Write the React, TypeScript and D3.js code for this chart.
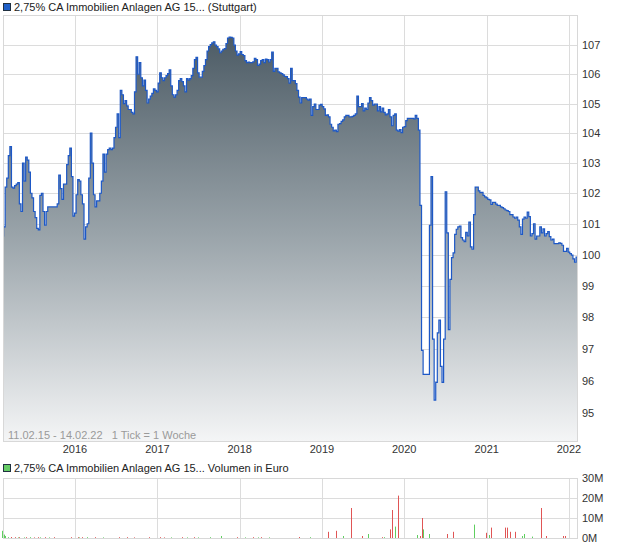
import React from "react";
import * as d3 from "d3";

const START_DATE = "2015-02-11";
const END_DATE = "2022-02-14";
const STEP_DAYS = 7;

const title = "2,75% CA Immobilien Anlagen AG 15... (Stuttgart)";
const volumeTitle = "2,75% CA Immobilien Anlagen AG 15... Volumen in Euro";
const rangeNote = "11.02.15 - 14.02.22   1 Tick = 1 Woche";

// weekly prices (one value per week starting 11.02.2015)
const prices2015 = [
  100.6, 100.9, 102.2, 102.5, 103.25, 103.55, 102.2, 102.17, 102.25, 102.3,
  102.35, 101.65, 101.4, 103.0, 102.4, 103.2, 103.1, 102.7, 102.0, 101.85,
  101.4, 101.2, 100.85, 100.8, 101.93, 102.0, 101.4, 100.95, 101.4, 101.55,
  101.55, 101.55, 101.55, 101.55, 101.55, 101.65, 102.6, 102.15, 101.8, 102.3,
  102.3, 102.95, 103.25, 103.5, 102.55, 101.25, 101.35,
];
const prices2016 = [
  101.95, 102.45, 102.4, 101.95, 101.65, 100.5, 100.9, 101.0, 102.5, 104.0,
  103.0, 101.95, 101.55, 101.75, 101.75, 102.0, 102.4, 103.3, 102.7, 103.3,
  103.45, 103.5, 103.45, 103.5, 103.85, 104.2, 104.65, 103.85, 105.45, 105.3,
  105.0, 105.1, 104.92, 104.8, 104.8, 104.7, 104.65, 105.4, 106.6, 106.0,
  106.4, 105.88, 105.6, 105.8, 105.45, 105.02, 105.15, 105.25, 105.35, 105.5,
  105.45, 105.4,
];
const prices2017 = [
  105.7, 106.05, 105.88, 105.78, 105.88, 105.95, 106.02, 106.15, 105.6, 105.3,
  105.22, 105.3, 105.45, 105.78, 105.85, 105.75, 105.6, 105.4, 105.85, 105.8,
  105.85, 105.95, 106.2, 106.5, 106.58, 106.05, 105.9, 105.9, 106.1, 106.3,
  106.5, 106.8, 106.95, 107.02, 107.08, 107.12, 107.0, 106.95, 106.87, 106.74,
  106.8, 106.86, 106.88, 107.06, 107.25, 107.28, 107.27, 107.25, 107.0, 106.8,
  106.66, 106.7,
];
const prices2018 = [
  106.78, 106.68, 106.64, 106.47, 106.4, 106.42, 106.4, 106.4, 106.43, 106.55,
  106.5, 106.3, 106.35, 106.47, 106.5, 106.4, 106.52, 106.5, 106.42, 106.5,
  106.76, 106.1, 106.2, 106.2, 106.08, 106.05, 106.02, 105.98, 105.93, 105.92,
  105.85, 105.7, 106.2, 105.78, 105.78, 105.68, 105.45, 105.22, 105.02, 105.2,
  105.2, 105.2, 105.15, 105.12, 105.15, 104.6, 104.9, 104.98, 104.8, 104.8,
  104.95, 104.97,
];
const prices2019 = [
  104.9, 104.82, 104.6, 104.62, 104.55, 104.3, 104.2, 104.08, 104.1, 104.05,
  104.3, 104.32, 104.4, 104.45, 104.55, 104.6, 104.6, 104.55, 104.55, 104.57,
  104.6, 104.65, 105.25, 104.9, 104.9, 105.0, 104.75, 104.85, 104.8, 105.02,
  105.2, 105.1, 104.95, 104.98, 104.98, 104.75, 104.9, 104.72, 104.85, 104.7,
  104.62, 104.65, 104.8, 104.55, 104.25, 104.6, 104.65, 104.1, 104.07, 104.12,
  104.02, 104.2,
];
const prices2020 = [
  104.22, 104.42, 104.5, 104.5, 104.5, 104.5, 104.48, 104.6, 104.5, 104.1,
  101.6, 96.95, 96.2, 96.2, 96.2, 96.2, 100.95, 102.55, 97.3, 95.4,
  95.95, 97.5, 97.9, 96.45, 95.95, 97.3, 102.05, 100.7, 97.6, 99.2,
  99.9, 100.05, 100.65, 100.82, 100.9, 100.92, 100.55, 100.47, 100.42, 100.72,
  100.6, 101.05, 100.25, 100.17, 101.3, 102.2, 102.2, 102.08, 102.02, 102.03,
  101.93, 101.88, 101.85,
];
const prices2021 = [
  101.8, 101.78, 101.63, 101.7, 101.7, 101.64, 101.6, 101.6, 101.55, 101.53,
  101.49, 101.45, 101.43, 101.4, 101.3, 101.3, 101.22, 101.18, 101.22, 101.12,
  100.9, 100.65, 101.15, 101.22, 101.18, 101.38, 101.23, 100.6, 100.68, 101.0,
  100.5, 100.6, 100.6, 100.9, 100.7, 100.83, 100.6, 100.68, 100.74, 100.58,
  100.47, 100.5, 100.35, 100.35, 100.35, 100.38, 100.36, 100.3, 100.1, 100.1,
  100.2, 100.08,
];
const prices2022 = [100.03, 99.98, 99.86, 99.75, 99.92, 99.97];

// volume in million euro, by week index
const volumeWeek = [
  0, 1, 2, 4, 6, 8, 10, 11, 14, 15, 18, 20, 23, 24, 27, 30, 33, 44, 48, 49,
  51, 54, 59, 64, 74, 79, 84, 93, 100, 103, 107, 114, 117, 122, 124, 132, 139,
  149, 154, 159, 162, 164, 169, 188, 195, 207, 212, 216, 221, 228, 232, 241,
  242, 246, 247, 249, 251, 263, 265, 266, 267, 271, 282, 286, 299, 307, 309,
  310, 319, 320, 322, 325, 330, 331, 336, 342, 345, 356, 357,
];
const volumeMio = [
  3.6, 1.7, 1.0, 0.4, 0.5, 0.4, 0.3, 0.4, 0.3, 0.4, 0.4, 0.3, 0.4, 0.3, 0.4,
  0.3, 0.4, 0.4, 0.4, 0.3, 0.4, 0.4, 0.4, 0.3, 0.4, 0.4, 0.3, 0.4, 0.4, 0.3,
  0.3, 0.4, 0.3, 0.4, 0.3, 0.4, 1.0, 0.4, 0.3, 0.4, 0.3, 0.4, 0.3, 0.5, 0.4,
  3.1, 3.6, 1.0, 15.0, 1.0, 2.0, 0.4, 0.4, 4.3, 14.0, 5.7, 21.2, 1.5, 1.0,
  10.0, 4.3, 2.0, 2.0, 3.1, 6.7, 2.6, 1.5, 5.2, 5.2, 5.2, 3.1, 3.1, 1.0, 2.0,
  0.7, 15.0, 1.0, 1.0, 1.0,
];
const volumeUp = [
  1, 1, 1, 1, 0, 0, 1, 0, 1, 0, 1, 0, 0, 1, 0, 1, 0, 0, 0, 1,
  0, 1, 0, 1, 0, 0, 0, 0, 0, 0, 1, 0, 1, 0, 1, 1, 1,
  0, 1, 0, 1, 0, 1, 0, 1, 0, 0, 1, 0, 0, 1, 0,
  1, 0, 0, 1, 0, 1, 0, 0, 1, 1, 0, 0, 1, 0, 1,
  0, 0, 0, 0, 0, 1, 1, 1, 0, 0, 0, 0,
];

const yearTicks = [2016, 2017, 2018, 2019, 2020, 2021, 2022];
const priceTicks = [95, 96, 97, 98, 99, 100, 101, 102, 103, 104, 105, 106, 107];
const volumeTicks = [0, 10, 20, 30];

const FONT = "'Liberation Sans', Arial, sans-serif";

export default function App() {
  const W = 620;
  const H = 546;
  const L = 3;
  const R = 578;
  const top = 15;
  const bottom = 441;
  const vTop = 478;
  const vBottom = 538;

  const parse = d3.utcParse("%Y-%m-%d");
  const start = parse(START_DATE) as Date;
  const end = parse(END_DATE) as Date;
  const prices = [
    ...prices2015, ...prices2016, ...prices2017, ...prices2018,
    ...prices2019, ...prices2020, ...prices2021, ...prices2022,
  ];
  const data = prices.map((v, i) => ({ date: d3.utcDay.offset(start, i * STEP_DAYS), v }));

  const x = d3.scaleUtc().domain([start, end]).range([2, 578.8]);
  const y = d3.scaleLog().domain([94.15, 108.05]).range([bottom, top]);
  const yv = d3.scaleLinear().domain([0, 30]).range([vBottom, vTop]);

  const line = d3
    .line<{ date: Date; v: number }>()
    .x((d) => x(d.date))
    .y((d) => y(d.v))
    .curve(d3.curveStepAfter);
  const area = d3
    .area<{ date: Date; v: number }>()
    .x((d) => x(d.date))
    .y0(bottom)
    .y1((d) => y(d.v))
    .curve(d3.curveStepAfter);

  const yearX = yearTicks.map((yr) => x(new Date(Date.UTC(yr, 0, 1))));

  return (
    <svg
      width={W}
      height={H}
      style={{ position: "absolute", left: 0, top: 0, background: "#fff" }}
      fontFamily={FONT}
    >
      <defs>
        <linearGradient id="fillGrad" gradientUnits="userSpaceOnUse" x1="0" y1={30} x2="0" y2={bottom}>
          <stop offset="0" stopColor="#4a5963" />
          <stop offset="0.5" stopColor="#9aa4aa" />
          <stop offset="1" stopColor="#f4f5f6" />
        </linearGradient>
        <clipPath id="plotClip">
          <rect x={L} y={top} width={R - L} height={bottom - top} />
        </clipPath>
      </defs>

      {/* legend */}
      <rect x={3.5} y={3.5} width={7} height={7} fill="#1f5fc8" stroke="#203040" />
      <text x={14} y={11} fontSize={11} fill="#222">{title}</text>

      {/* main grid */}
      {priceTicks.map((t) => (
        <line key={"h" + t} x1={L} x2={R} y1={Math.round(y(t)) + 0.5} y2={Math.round(y(t)) + 0.5} stroke="#dcdcdc" />
      ))}
      {yearX.map((px, i) => (
        <line key={"v" + i} x1={Math.round(px) + 0.5} x2={Math.round(px) + 0.5} y1={top} y2={bottom} stroke="#dcdcdc" />
      ))}

      <g clipPath="url(#plotClip)">
        <path d={area(data) || ""} fill="url(#fillGrad)" />
        <path d={line(data) || ""} fill="none" stroke="#1d58c6" strokeWidth={1.2} />
      </g>

      <rect x={L + 0.5} y={top + 0.5} width={R - L - 1} height={bottom - top} fill="none" stroke="#d8d8d8" />

      <text x={8} y={439} fontSize={11} fill="#9a9a9a" style={{ whiteSpace: "pre" }}>{rangeNote}</text>

      {priceTicks.map((t) => (
        <text key={"pt" + t} x={582} y={y(t) + 4} fontSize={11} fill="#333">{t}</text>
      ))}
      {yearTicks.map((yr, i) => (
        <text key={"yt" + yr} x={yearX[i]} y={453} fontSize={11} fill="#333" textAnchor="middle">{yr}</text>
      ))}

      {/* volume panel */}
      <rect x={3.5} y={464.5} width={7} height={7} fill="#66cc66" stroke="#203040" />
      <text x={14} y={472} fontSize={11} fill="#222">{volumeTitle}</text>

      {volumeTicks.map((t) => (
        <line key={"vh" + t} x1={L} x2={R} y1={Math.round(yv(t)) + 0.5} y2={Math.round(yv(t)) + 0.5} stroke="#dcdcdc" />
      ))}
      {yearX.map((px, i) => (
        <line key={"vv" + i} x1={Math.round(px) + 0.5} x2={Math.round(px) + 0.5} y1={vTop} y2={vBottom} stroke="#dcdcdc" />
      ))}
      <rect x={L + 0.5} y={vTop + 0.5} width={R - L - 1} height={vBottom - vTop} fill="none" stroke="#d8d8d8" />

      {volumeWeek.map((wk, i) => {
        const px = Math.round(x(d3.utcDay.offset(start, wk * STEP_DAYS)));
        const y1 = yv(volumeMio[i]);
        return (
          <rect
            key={"vb" + i}
            x={px}
            y={y1}
            width={1}
            height={vBottom - y1}
            fill={volumeUp[i] ? "#5fcf5f" : "#e05555"}
          />
        );
      })}

      {volumeTicks.map((t) => (
        <text key={"vt" + t} x={582} y={yv(t) + 4} fontSize={11} fill="#333">{t + "M"}</text>
      ))}
    </svg>
  );
}
